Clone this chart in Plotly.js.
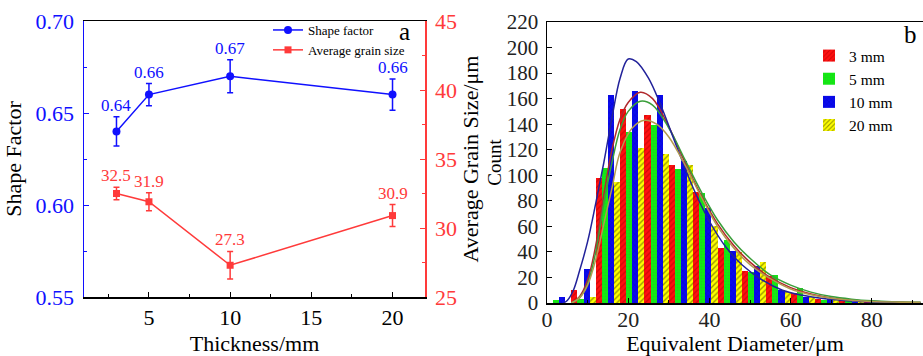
<!DOCTYPE html>
<html>
<head>
<meta charset="utf-8">
<script src="https://cdn.plot.ly/plotly-3.0.1.min.js"></script>
<style>html,body{margin:0;padding:0;background:#fff;}#chart{width:923px;height:356px;}</style>
</head>
<body>
<div id="chart"></div>
<script>
// ---------- Panel a data ----------
var thickness = [3, 5, 10, 20];
var shapeFactor = [0.64, 0.66, 0.67, 0.66];
var shapeFactorErr = [0.008, 0.006, 0.009, 0.0085];
var shapeFactorLabels = ['0.64', '0.66', '0.67', '0.66'];
var grainSize = [32.5, 31.9, 27.3, 30.9];
var grainSizeErr = [0.45, 0.65, 1.0, 0.8];
var grainSizeLabels = ['32.5', '31.9', '27.3', '30.9'];

// ---------- Panel b data ----------
var binCenters = [3, 9, 15, 21, 27, 33, 39, 45, 51, 57, 63, 69, 75, 81, 87];
var count3mm  = [0, 10, 98, 152, 147, 108, 87, 43, 25, 21, 8, 3, 2.4, 1, 0.5];
var count5mm  = [2, 3, 106, 134, 139, 105, 86, 49, 24, 22, 12, 2.4, 1.5, 1, 0.5];
var count10mm = [5, 27, 163, 166, 163, 111, 74, 41, 29, 10, 5, 3, 1, 0.5, 0];
var count20mm = [0, 5, 95, 121, 117, 108, 60, 40, 32, 9, 4.5, 3, 1, 0.5, 0];

var fit3mmX  = [6, 8, 10, 12, 14, 16, 18, 20, 23, 26, 30, 34, 38, 42, 46, 50, 55, 60, 65, 70, 75, 80, 85, 92];
var fit3mmY  = [0, 5, 18, 45, 85, 120, 144, 157, 165, 160, 138, 110, 84, 62, 45, 32, 20, 12, 7, 4, 2.3, 1.3, 0.7, 0.3];
var fit5mmX  = [6, 8, 10, 12, 14, 16, 18, 20, 23, 26, 30, 34, 38, 42, 46, 50, 55, 60, 65, 70, 75, 80, 85, 92];
var fit5mmY  = [0, 4, 15, 40, 78, 110, 136, 150, 158, 155, 137, 112, 87, 65, 48, 35, 22, 14, 8.5, 5, 3, 1.7, 1, 0.5];
var fit10mmX = [4, 5, 6.5, 8, 10, 12, 14, 16, 18, 20, 22, 25, 28, 32, 36, 40, 44, 48, 53, 58, 63, 68, 75, 82, 92];
var fit10mmY = [0, 2, 10, 25, 48, 78, 110, 145, 176, 191, 189, 176, 155, 122, 90, 64, 44, 30, 18, 10, 6, 3.5, 1.5, 0.6, 0.2];
var fit20mmX = [6, 8, 10, 12, 14, 16, 18, 21, 24, 27, 30, 34, 38, 42, 46, 50, 55, 60, 65, 70, 75, 80, 85, 92];
var fit20mmY = [0, 4, 14, 34, 62, 90, 118, 137, 143, 140, 130, 108, 83, 60, 43, 30, 19, 11, 6.5, 3.8, 2.2, 1.2, 0.7, 0.3];

var seriesNames = ['3 mm', '5 mm', '10 mm', '20 mm'];

var FONT = 'Liberation Serif';
var BLUE = '#1010ff';
var RED = '#ff3a3a';

var traces = [];

// Panel a
traces.push({
  x: thickness, y: shapeFactor, name: 'Shape factor',
  type: 'scatter', mode: 'lines+markers',
  xaxis: 'x', yaxis: 'y', legend: 'legend',
  line: {color: BLUE, width: 1.5},
  marker: {color: BLUE, size: 8, symbol: 'circle'},
  error_y: {type: 'data', array: shapeFactorErr, visible: true, color: BLUE, thickness: 1.5, width: 3}
});
traces.push({
  x: thickness, y: grainSize, name: 'Average grain size',
  type: 'scatter', mode: 'lines+markers',
  xaxis: 'x', yaxis: 'y2', legend: 'legend',
  line: {color: RED, width: 1.5},
  marker: {color: RED, size: 7, symbol: 'square'},
  error_y: {type: 'data', array: grainSizeErr, visible: true, color: RED, thickness: 1.5, width: 3}
});

// Panel b bars
var barColors = ['#ff1010', '#10ee10', '#0a0aee', '#ffff00'];
var patterns = [
  {shape: '/', fgcolor: '#a00000', size: 4, solidity: 0.3, fillmode: 'overlay'},
  {shape: '.', fgcolor: '#30b030', size: 3, solidity: 0.3, fillmode: 'overlay'},
  {shape: 'x', fgcolor: '#000090', size: 4, solidity: 0.2, fillmode: 'overlay'},
  {shape: '/', fgcolor: '#333300', size: 4, solidity: 0.35, fillmode: 'overlay'}
];
var counts = [count3mm, count5mm, count10mm, count20mm];
for (var i = 0; i < 4; i++) {
  traces.push({
    x: binCenters, y: counts[i], name: seriesNames[i], type: 'bar',
    xaxis: 'x2', yaxis: 'y3', legend: 'legend2',
    marker: {color: barColors[i], pattern: patterns[i], line: {width: 0}}
  });
}
var fitX = [fit3mmX, fit5mmX, fit10mmX, fit20mmX];
var fitY = [fit3mmY, fit5mmY, fit10mmY, fit20mmY];
var fitColors = ['#b0282c', '#3a9e3a', '#22229a', '#b39a4e'];
for (var j = 0; j < 4; j++) {
  traces.push({
    x: fitX[j], y: fitY[j], type: 'scatter', mode: 'lines',
    xaxis: 'x2', yaxis: 'y3', showlegend: false, hoverinfo: 'skip',
    line: {color: fitColors[j], width: 1.5, shape: 'spline', smoothing: 1}
  });
}

// Value labels as annotations anchored at error-bar tops
var annotations = [];
for (var k = 0; k < thickness.length; k++) {
  annotations.push({
    x: thickness[k], y: shapeFactor[k] + shapeFactorErr[k], xref: 'x', yref: 'y',
    text: shapeFactorLabels[k], showarrow: false, yanchor: 'bottom', yshift: 0,
    font: {family: FONT, size: 17, color: BLUE}
  });
  annotations.push({
    x: thickness[k], y: grainSize[k] + grainSizeErr[k], xref: 'x', yref: 'y2',
    text: grainSizeLabels[k], showarrow: false, yanchor: 'bottom', yshift: 0,
    font: {family: FONT, size: 17, color: RED}
  });
}
annotations.push({x: 404/923, y: 1 - 31/356, xref: 'paper', yref: 'paper', xanchor: 'center', yanchor: 'middle',
  text: 'a', showarrow: false, font: {family: FONT, size: 25, color: '#000'}});
annotations.push({x: 910/923, y: 1 - 34/356, xref: 'paper', yref: 'paper', xanchor: 'center', yanchor: 'middle',
  text: 'b', showarrow: false, font: {family: FONT, size: 25, color: '#000'}});

var layout = {
  width: 923, height: 356,
  margin: {l: 0, r: 0, t: 0, b: 0},
  paper_bgcolor: '#fff', plot_bgcolor: '#fff',
  font: {family: FONT, color: '#000'},
  barmode: 'group', bargap: 0, bargroupgap: 0,
  xaxis: {
    domain: [84/923, 425/923], anchor: 'y', range: [1, 22],
    tickvals: [5, 10, 15, 20], ticks: 'inside', ticklen: 5, tickcolor: '#000',
    minor: {dtick: 2.5, tick0: 0, ticks: 'inside', ticklen: 3, tickcolor: '#000'},
    showline: true, linecolor: '#000', linewidth: 1.5, mirror: true,
    showgrid: false, zeroline: false,
    tickfont: {family: FONT, size: 22, color: '#000'},
    title: {text: 'Thickness/mm', font: {family: FONT, size: 22, color: '#000'}, standoff: 6}
  },
  yaxis: {
    domain: [59/356, 335/356], anchor: 'x', range: [0.55, 0.70],
    dtick: 0.05, tick0: 0.55, tickformat: '.2f', ticks: 'inside', ticklen: 5, tickcolor: BLUE,
    minor: {dtick: 0.025, tick0: 0.55, ticks: 'inside', ticklen: 3, tickcolor: BLUE},
    showline: true, linecolor: BLUE, linewidth: 1.5,
    showgrid: false, zeroline: false, ticklabelstandoff: 4,
    tickfont: {family: FONT, size: 22, color: BLUE},
    title: {text: 'Shape Factor', font: {family: FONT, size: 22, color: '#000'}, standoff: 8}
  },
  yaxis2: {
    anchor: 'x', overlaying: 'y', side: 'right', range: [25, 45],
    dtick: 5, tick0: 25, ticks: 'inside', ticklen: 5, tickcolor: RED,
    minor: {dtick: 2.5, tick0: 25, ticks: 'inside', ticklen: 3, tickcolor: RED},
    showline: true, linecolor: RED, linewidth: 1.5,
    showgrid: false, zeroline: false, ticklabelstandoff: 4,
    tickfont: {family: FONT, size: 22, color: RED},
    title: {text: 'Average Grain Size/μm', font: {family: FONT, size: 22, color: '#000'}, standoff: 6}
  },
  xaxis2: {
    domain: [547/923, 1], anchor: 'y3', range: [0, 92.6],
    dtick: 20, tick0: 0, ticks: 'inside', ticklen: 5, tickcolor: '#000',
    minor: {dtick: 10, tick0: 0, ticks: 'inside', ticklen: 3, tickcolor: '#000'},
    showline: true, linecolor: '#000', linewidth: 1.5, mirror: true,
    showgrid: false, zeroline: false, ticklabelstandoff: -4,
    tickfont: {family: FONT, size: 22, color: '#222'},
    title: {text: 'Equivalent Diameter/μm', font: {family: FONT, size: 22, color: '#000'}, standoff: 3}
  },
  yaxis3: {
    domain: [53/356, 334/356], anchor: 'x2', range: [0, 220],
    dtick: 20, tick0: 0, ticks: 'inside', ticklen: 5, tickcolor: '#000',
    showline: true, linecolor: '#000', linewidth: 1.5,
    showgrid: false, zeroline: false, ticklabelstandoff: 3,
    tickfont: {family: FONT, size: 21, color: '#222'},
    title: {text: 'Count', font: {family: FONT, size: 19, color: '#000'}, standoff: 0}
  },
  legend: {
    x: 268/923, y: 1 - 15/356, xanchor: 'left', yanchor: 'top',
    bgcolor: 'rgba(0,0,0,0)', borderwidth: 0,
    font: {family: FONT, size: 13, color: '#000'},
    tracegroupgap: 0, itemwidth: 30
  },
  legend2: {
    x: 809/923, y: 1 - 39/356, xanchor: 'left', yanchor: 'top',
    bgcolor: 'rgba(0,0,0,0)', borderwidth: 0,
    font: {family: FONT, size: 15.5, color: '#000'},
    tracegroupgap: 0
  },
  annotations: annotations,
  showlegend: true
};

Plotly.newPlot('chart', traces, layout, {displayModeBar: false, staticPlot: true});
</script>
</body>
</html>
